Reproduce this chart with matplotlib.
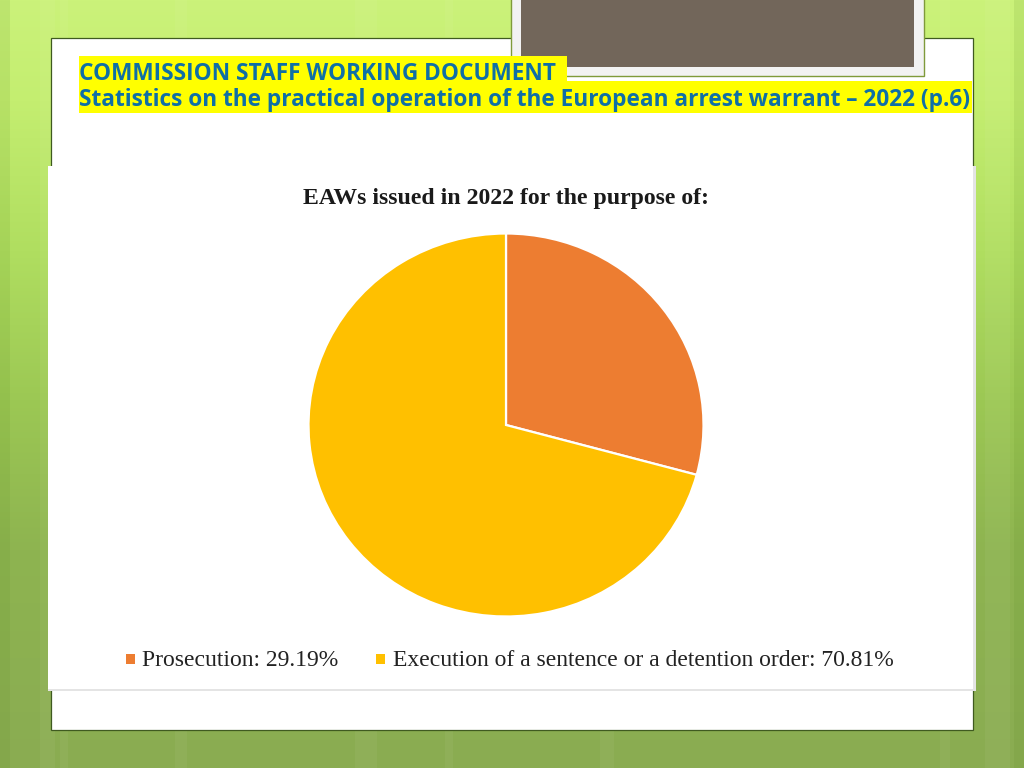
import numpy as np
import matplotlib
matplotlib.use("Agg")
import matplotlib.pyplot as plt
from matplotlib.patches import Rectangle

categories = ["Prosecution", "Execution of a sentence or a detention order"]
shares = [29.19, 70.81]
colors = ["#ED7D31", "#FFC000"]
title = "EAWs issued in 2022 for the purpose of:"
heading = ["COMMISSION STAFF WORKING DOCUMENT",
           "Statistics on the practical operation of the European arrest warrant \u2013 2022 (p.6)"]

W, H = 1024, 768
fig = plt.figure(figsize=(W/100, H/100), dpi=100)
bg = fig.add_axes([0, 0, 1, 1])
bg.set_xlim(0, W); bg.set_ylim(H, 0); bg.axis("off")

stops_y = np.array([0, 100, 250, 400, 550, 768]) / 768
stops = np.array([[203,242,122],[196,238,112],[176,222,96],[156,200,84],[142,180,80],[138,172,82]]) / 255
yy = np.linspace(0, 1, 256)
grad = np.stack([np.interp(yy, stops_y, stops[:, i]) for i in range(3)], axis=1)
img = np.repeat(grad[:, None, :], 256, axis=1)
bg.imshow(img, extent=(0, W, H, 0), aspect="auto", zorder=0)

# faint vertical light bands of the slide background
for x0, w0 in [(40, 15), (60, 8), (175, 12), (355, 22), (445, 8), (600, 14), (940, 10), (985, 25)]:
    bg.add_patch(Rectangle((x0, 0), w0, H, fc="white", ec="none", alpha=0.045, zorder=1))
bg.add_patch(Rectangle((0, 0), 10, H, fc="#5a8a20", ec="none", alpha=0.12, zorder=1))
bg.add_patch(Rectangle((1014, 0), 10, H, fc="#5a8a20", ec="none", alpha=0.12, zorder=1))

bg.add_patch(Rectangle((511, -5), 413, 81, fc="#F2F2F2", ec="#7F9A3A", lw=1, zorder=3))
bg.add_patch(Rectangle((521, -5), 393, 72, fc="#72665A", ec="none", zorder=4))

bg.add_patch(Rectangle((51, 37.5), 921.5, 692, fc="white", ec="#3F5A20", lw=0.9, zorder=2))

ys = [74, 100]
bg.add_patch(Rectangle((79, 56), 488, 26, fc="#FFFF00", ec="none", zorder=5))
bg.add_patch(Rectangle((79, 81), 893, 32, fc="#FFFF00", ec="none", zorder=5))
for s, y in zip(heading, ys):
    bg.text(79, y, s, fontsize=16.3, fontweight="bold", family="Open Sans",
            color="#0F6FA6", va="center", ha="left", zorder=6)

bg.add_patch(Rectangle((48, 166), 928, 525, fc="#E4E4E4", ec="none", zorder=5))
bg.add_patch(Rectangle((48, 166), 925, 523, fc="white", ec="none", zorder=5))

bg.text(506, 198.5, title, fontsize=17.1, fontweight="bold", family="Liberation Serif",
        color="#1a1a1a", ha="center", va="center", zorder=6)

ax = fig.add_axes([308.5/W, 1 - 616.5/H, 395/W, 383/H], zorder=7)
ax.pie(shares, colors=colors, startangle=90, counterclock=False, radius=1,
       wedgeprops=dict(edgecolor="white", linewidth=1.6))
ax.set_aspect("auto")
ax.set_xlim(-1, 1); ax.set_ylim(-1, 1)

leg_items = [(f"{c}: {v:.2f}%", col, x0, x1)
             for c, v, col, x0, x1 in zip(categories, shares, colors, [126, 376], [142, 393])]
for label, col, xm, xt in leg_items:
    bg.add_patch(Rectangle((xm, 654), 9, 10, fc=col, ec="none", zorder=6))
    bg.text(xt, 661, label, fontsize=17.05, family="Liberation Serif",
            color="#222222", ha="left", va="center", zorder=6)

fig.savefig("out.png", dpi=100)
